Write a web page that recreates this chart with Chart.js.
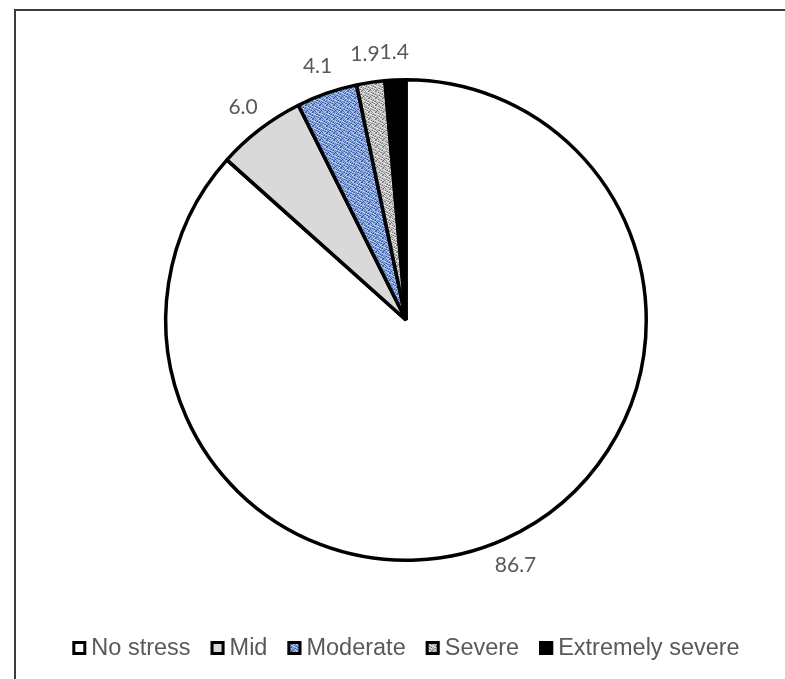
<!DOCTYPE html>
<html>
<head>
<meta charset="utf-8">
<script src="https://cdn.jsdelivr.net/npm/chart.js@4.4.0/dist/chart.umd.min.js"></script>
<style>
  html, body { margin: 0; padding: 0; background: #fff; }
  #wrap { position: relative; width: 785px; height: 679px; }
</style>
</head>
<body>
<div id="wrap"><canvas id="myPie" width="785" height="679"></canvas></div>
<script>
// Stress levels and their share (%)
var categories = ['No stress', 'Mid', 'Moderate', 'Severe', 'Extremely severe'];
var values = [86.7, 6.0, 4.1, 1.9, 1.4];
var valueLabels = ['86.7', '6.0', '4.1', '1.9', '1.4'];

// small texture tiles for the patterned slices
function makePattern(rows, palette) {
    var c = document.createElement('canvas');
    c.width = rows[0].length;
    c.height = rows.length;
    var g = c.getContext('2d');
    rows.forEach(function (row, y) {
        for (var x = 0; x < row.length; x++) {
            g.fillStyle = palette[row[x]];
            g.fillRect(x, y, 1, 1);
        }
    });
    return document.createElement('canvas').getContext('2d').createPattern(c, 'repeat');
}

var tile = [
    'badbcab',
    'cbabdbb',
    'dacbabd',
    'bbdacba',
    'acbbdab',
    'bdacbbc',
    'abbdacb'
];
var bluePattern = makePattern(tile, { a: '#5a7ec6', b: '#93aee0', c: '#34579a', d: '#c3d3f0' });
var grayPattern = makePattern(tile, { a: '#a3a3a3', b: '#cdcdcd', c: '#707070', d: '#ececec' });

var sliceColors = ['#ffffff', '#d9d9d9', bluePattern, grayPattern, '#000000'];

var TEXT_GRAY = '#595959';

// frame, value labels and legend drawn on the canvas
var decorPlugin = {
    id: 'decor',
    beforeDraw: function (chart) {
        var ctx = chart.ctx;
        ctx.save();
        ctx.strokeStyle = '#3c3c3c';
        ctx.lineWidth = 2;
        ctx.beginPath();
        ctx.moveTo(15, chart.height);
        ctx.lineTo(15, 10);
        ctx.lineTo(chart.width, 10);
        ctx.stroke();
        ctx.restore();
    },
    afterDatasetsDraw: function (chart) {
        var ctx = chart.ctx;
        var arcs = chart.getDatasetMeta(0).data;
        ctx.save();
        ctx.font = '21px Lato';
        ctx.fillStyle = TEXT_GRAY;
        ctx.textAlign = 'center';
        ctx.textBaseline = 'middle';

        // outside-end positions
        var pos = arcs.map(function (arc, i) {
            var mid = (arc.startAngle + arc.endAngle) / 2;
            var r = arc.outerRadius + 28;
            return {
                x: arc.x + Math.cos(mid) * r,
                y: arc.y + Math.sin(mid) * r,
                w: ctx.measureText(valueLabels[i]).width
            };
        });
        // push crowded neighbours apart (leftwards)
        for (var i = pos.length - 1; i > 0; i--) {
            var a = pos[i - 1], b = pos[i];
            if (Math.abs(a.y - b.y) < 20) {
                var need = (a.w + b.w) / 2;
                if (b.x - a.x < need) {
                    a.x = b.x - need;
                }
            }
        }
        pos.forEach(function (p, i) {
            ctx.fillText(valueLabels[i], p.x, p.y);
        });

        // legend, centred under the pie
        ctx.font = '23.5px "Liberation Sans", Arial, sans-serif';
        ctx.textAlign = 'left';
        var box = 14, gapText = 5, gapItem = 20;
        var widths = categories.map(function (c) { return box + gapText + ctx.measureText(c).width; });
        var total = widths.reduce(function (s, w) { return s + w; }, 0) + gapItem * (categories.length - 1);
        var x = arcs[0].x - total / 2;
        var y = 648;
        categories.forEach(function (c, i) {
            ctx.fillStyle = sliceColors[i];
            ctx.fillRect(x, y - box / 2, box, box);
            ctx.strokeStyle = '#000';
            ctx.lineWidth = 3;
            ctx.strokeRect(x + 1.5, y - box / 2 + 1.5, box - 3, box - 3);
            ctx.fillStyle = TEXT_GRAY;
            ctx.fillText(c, x + box + gapText, y + 1);
            x += widths[i] + gapItem;
        });
        ctx.restore();
    }
};

var ctx = document.getElementById('myPie').getContext('2d');
var stressChart = new Chart(ctx, {
    type: 'pie',
    data: {
        labels: categories,
        datasets: [{
            data: values,
            backgroundColor: sliceColors,
            borderColor: '#000000',
            borderWidth: 3.5
        }]
    },
    options: {
        responsive: false,
        animation: false,
        events: [],
        layout: {
            padding: { left: 164, right: 137, top: 78, bottom: 117 }
        },
        plugins: {
            legend: { display: false },
            tooltip: { enabled: false }
        }
    },
    plugins: [decorPlugin]
});
</script>
</body>
</html>
